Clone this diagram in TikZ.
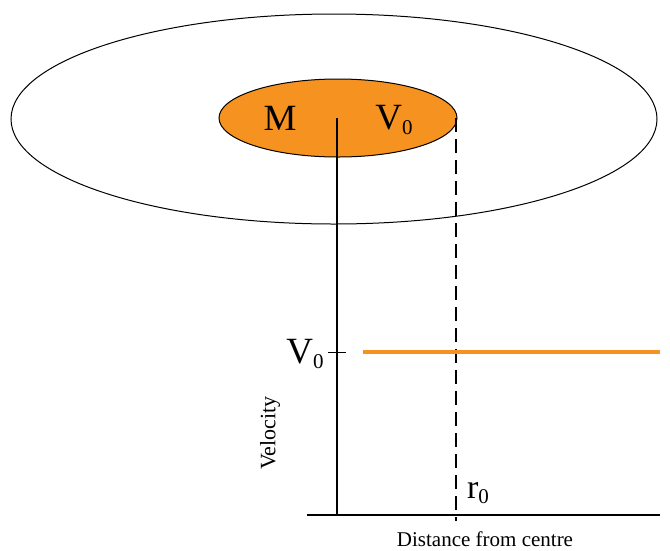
\documentclass[tikz,border=0pt]{standalone}
\usepackage{fontspec}
\setmainfont{Liberation Serif}
\definecolor{orng}{RGB}{245,146,32}
\newcommand{\subz}{\raisebox{-5pt}{\fontsize{21}{21}\selectfont 0}}
\begin{document}
\begin{tikzpicture}[x=1pt,y=-1pt,
  lbl/.style={inner sep=0pt},
  big/.style={lbl,font=\fontsize{37}{37}\selectfont}]
\useasboundingbox (0,0) rectangle (670,550);
% big ellipse
\draw[line width=1pt] (334,119) ellipse [x radius=323, y radius=105];
% orange ellipse
\draw[fill=orng, line width=1pt] (338,118) ellipse [x radius=119, y radius=39];
\node[big] (M) at (280,118) {M};
\node[big] (V) at (394,120) {V\subz};
% axes
\coordinate (ctop) at (337,118);
\coordinate (cbot) at (337,515);
\draw[line width=1.1pt] (ctop) -- (cbot);
\coordinate (dtop) at (456,118);
\coordinate (dbot) at (456,521);
\draw[line width=1.1pt, dash pattern=on 14pt off 7pt] (dtop) -- (dbot);
\coordinate (xl) at (307,515);
\coordinate (xr) at (660,515);
\draw[line width=2.8pt] (xl) -- (xr);
% orange velocity line
\coordinate (ol) at (363,352);
\coordinate (or) at (660,352);
\draw[orng, line width=3.8pt] (ol) -- (or);
% tick
\coordinate (tl) at (328,352);
\coordinate (tr) at (346,352);
\draw[line width=1pt] (tl) -- (tr);
\node[big] (V0) at (305,354) {V\subz};
\node[lbl, font=\fontsize{34}{34}\selectfont] (r0) at (478,493) {r\subz};
\node[lbl, font=\fontsize{22}{22}\selectfont, rotate=90] (vel) at (270,433) {Velocity};
\node[lbl, font=\fontsize{21}{21}\selectfont] (dist) at (485,539) {Distance from centre};
\end{tikzpicture}
\end{document}
